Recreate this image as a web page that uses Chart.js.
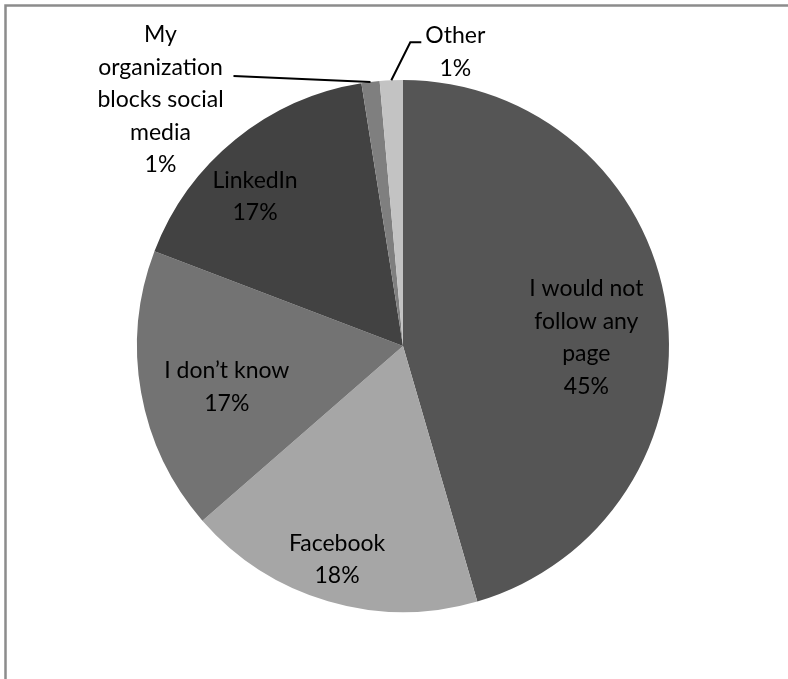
<!DOCTYPE html>
<html>
<head>
<meta charset="utf-8">
<script src="https://cdn.jsdelivr.net/npm/chart.js@4.4.1/dist/chart.umd.min.js"></script>
<style>
  html, body { margin: 0; padding: 0; background: #fff; }
  #wrap { width: 788px; height: 679px; position: relative; }
</style>
</head>
<body>
<div id="wrap"><canvas id="pie" width="788" height="679"></canvas></div>
<script>
// data
const categories = ['I would not follow any page', 'Facebook', 'I don\u2019t know', 'LinkedIn', 'My organization blocks social media', 'Other'];
const shares = [45.49, 18.1, 17.2, 16.7, 1.1, 1.4];
const sliceColors = ['#555555', '#a6a6a6', '#737373', '#424242', '#7f7f7f', '#c3c3c3'];

// how each label is wrapped and where it sits
const labelLines = [
    ['I would not', 'follow any', 'page'],
    ['Facebook'],
    ['I don\u2019t know'],
    ['LinkedIn'],
    ['My', 'organization', 'blocks social', 'media'],
    ['Other']
];
// inside labels: angle shift in degrees + radius fraction; outside labels: leader line offsets
const labelPlace = [
    { inside: true, shift: 5.5, frac: 0.69 },
    { inside: true, shift: 0.8, frac: 0.84 },
    { inside: true, shift: -3, frac: 0.68 },
    { inside: true, shift: -5.7, frac: 0.79 },
    { inside: false, elbow: [-137, -6], text: [-210, 18] },
    { inside: false, elbow: [19, -38], end: [30, -38], text: [64, -28] }
];

const FONT = '23px Lato, "Open Sans", sans-serif';
const LINE_H = 32.5;

const frame = {
    id: 'frame',
    beforeDraw(chart) {
        const ctx = chart.ctx;
        ctx.save();
        ctx.strokeStyle = '#8c8c8c';
        ctx.lineWidth = 2.5;
        ctx.beginPath();
        ctx.moveTo(5.5, chart.height);
        ctx.lineTo(5.5, 5.5);
        ctx.lineTo(chart.width, 5.5);
        ctx.stroke();
        ctx.restore();
    }
};

const sliceLabels = {
    id: 'sliceLabels',
    afterDatasetsDraw(chart) {
        const ctx = chart.ctx;
        const meta = chart.getDatasetMeta(0);
        ctx.save();
        ctx.font = FONT;
        ctx.fillStyle = '#000';
        ctx.textBaseline = 'middle';
        meta.data.forEach((arc, i) => {
            const p = arc.getProps(['x', 'y', 'startAngle', 'endAngle', 'outerRadius'], true);
            const mid = (p.startAngle + p.endAngle) / 2;
            const pct = Math.round(shares[i]) + '%';
            const lines = labelLines[i].concat([pct]);
            const place = labelPlace[i];
            let cx, cy;
            if (place.inside) {
                const a = mid + place.shift * Math.PI / 180;
                cx = p.x + Math.cos(a) * p.outerRadius * place.frac;
                cy = p.y + Math.sin(a) * p.outerRadius * place.frac;
            } else {
                const ex = p.x + Math.cos(mid) * p.outerRadius;
                const ey = p.y + Math.sin(mid) * p.outerRadius;
                ctx.strokeStyle = '#000';
                ctx.lineWidth = 2;
                ctx.beginPath();
                ctx.moveTo(ex, ey);
                ctx.lineTo(ex + place.elbow[0], ey + place.elbow[1]);
                if (place.end) ctx.lineTo(ex + place.end[0], ey + place.end[1]);
                ctx.stroke();
                cx = ex + place.text[0];
                cy = ey + place.text[1];
            }
            ctx.textAlign = 'center';
            const top = cy - (lines.length - 1) * LINE_H / 2;
            lines.forEach((t, k) => ctx.fillText(t, cx, top + k * LINE_H));
        });
        ctx.restore();
    }
};

new Chart(document.getElementById('pie'), {
    type: 'pie',
    data: {
        labels: categories,
        datasets: [{
            data: shares,
            backgroundColor: sliceColors,
            borderWidth: 0
        }]
    },
    options: {
        responsive: false,
        animation: false,
        layout: { padding: { top: 80, bottom: 67, left: 137, right: 119 } },
        plugins: {
            legend: { display: false },
            tooltip: { enabled: false }
        }
    },
    plugins: [frame, sliceLabels]
});
</script>
</body>
</html>
